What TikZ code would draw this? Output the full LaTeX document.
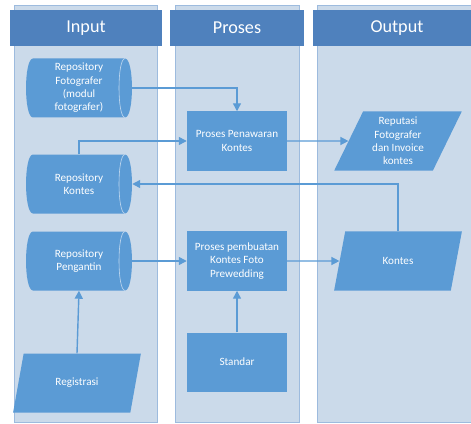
\documentclass[tikz,border=0pt]{standalone}
\usepackage{fontspec}
\setmainfont{Carlito}
\usetikzlibrary{shapes.geometric,arrows.meta}
\begin{document}
\begin{tikzpicture}[x=0.03cm,y=-0.03cm,
  lane/.style={fill=laneColor,draw=laneLine,line width=0.6pt},
  header/.style={fill=headColor,text=white,minimum height=1.1cm,inner sep=0pt,font=\fontsize{15.5}{18}\selectfont},
  repo/.style={rectangle,text=white,minimum width=3.18cm,minimum height=1.77cm,inner sep=0pt,align=center,font=\fontsize{9.5}{11.4}\selectfont},
  proc/.style={rectangle,fill=boxColor,text=white,minimum width=3cm,minimum height=1.77cm,inner sep=0pt,align=center,font=\fontsize{9.5}{11.4}\selectfont},
  data/.style={trapezium,trapezium left angle=66,trapezium right angle=114,trapezium stretches=true,fill=boxColor,text=white,minimum width=3.84cm,minimum height=1.77cm,inner sep=0pt,align=center,font=\fontsize{9.5}{11.4}\selectfont},
  flow/.style={draw=boxColor,line width=1.2pt,-{Triangle[length=0.24cm,width=0.24cm]}},
  inner/.style={draw=arcColor,line width=0.5pt}]
\definecolor{laneColor}{RGB}{203,218,234}
\definecolor{laneLine}{RGB}{157,187,222}
\definecolor{headColor}{RGB}{79,129,189}
\definecolor{boxColor}{RGB}{91,155,213}
\definecolor{arcColor}{RGB}{196,218,240}
\useasboundingbox (0,0) rectangle (471,424);
\draw[lane] (14,5) rectangle (157,422);
\draw[lane] (175,5) rectangle (299,422);
\draw[lane] (317,5) rectangle (485,422);
\node[header,minimum width=4.56cm] (hInput) at (86,28) {Input};
\node[header,minimum width=4.02cm] (hProses) at (237,28) {Proses};
\node[header,minimum width=5.04cm] (hOutput) at (397,28) {Output};
\fill[boxColor] (33,58.5) -- (125,58.5) .. controls (134.3,58.5) and (134.3,117.5) .. (125,117.5) -- (33,117.5) .. controls (23.7,117.5) and (23.7,58.5) .. (33,58.5) -- cycle;
\draw[inner] (125,58.5) .. controls (117,58.5) and (117,117.5) .. (125,117.5);
\fill[boxColor] (33,154.5) -- (125,154.5) .. controls (134.3,154.5) and (134.3,213.5) .. (125,213.5) -- (33,213.5) .. controls (23.7,213.5) and (23.7,154.5) .. (33,154.5) -- cycle;
\draw[inner] (125,154.5) .. controls (117,154.5) and (117,213.5) .. (125,213.5);
\fill[boxColor] (33,231.5) -- (125,231.5) .. controls (134.3,231.5) and (134.3,290.5) .. (125,290.5) -- (33,290.5) .. controls (23.7,290.5) and (23.7,231.5) .. (33,231.5) -- cycle;
\draw[inner] (125,231.5) .. controls (117,231.5) and (117,290.5) .. (125,290.5);
\node[repo] (repF) at (79,88) {Repository\\Fotografer\\(modul\\fotografer)};
\node[repo] (repK) at (79,184) {Repository\\Kontes};
\node[repo] (repP) at (79,261) {Repository\\Pengantin};
\node[data] (reg) at (77,383) {Registrasi};
\node[proc] (penawaran) at (237,141) {Proses Penawaran\\Kontes};
\node[proc] (pembuatan) at (237,261) {Proses pembuatan\\Kontes Foto\\Prewedding};
\node[proc] (standar) at (237,362) {Standar};
\node[data] (reputasi) at (398,141) {Reputasi\\Fotografer\\dan Invoice\\kontes};
\node[data] (kontes) at (398,261) {Kontes};
\draw[flow] (repF.east) -| (penawaran.north);
\draw[flow] (repK.north) |- (penawaran.west);
\draw[flow] (kontes.north) |- (repK.east);
\draw[flow] (penawaran.east) -- (reputasi);
\draw[flow] (repP.east) -- (pembuatan.west);
\draw[flow] (pembuatan.east) -- (kontes);
\draw[flow] (reg.north) -- (repP.south);
\draw[flow] (standar.north) -- (pembuatan.south);
\end{tikzpicture}
\end{document}
